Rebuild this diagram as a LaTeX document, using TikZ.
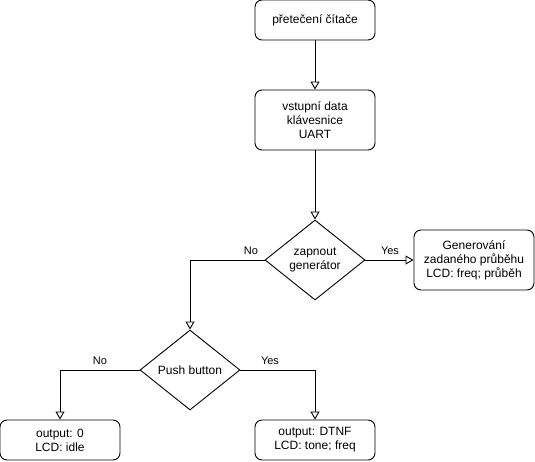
\documentclass[tikz,border=0pt]{standalone}
\usepackage{fontspec}
\setmainfont{Liberation Sans}
\usetikzlibrary{shapes.geometric,arrows.meta}
\begin{document}
\begin{tikzpicture}[
  x = 1pt,
  y = -1pt,
  box/.style = {
    shape = rectangle,
    draw = black,
    rounded corners = 7pt,
    minimum width = 120pt,
    minimum height = 40pt,
    align = center,
    font = \fontsize{12}{14}\selectfont,
  },
  choice/.style = {
    shape = diamond,
    draw = black,
    minimum width = 100pt,
    minimum height = 80pt,
    inner sep = 0pt,
    aspect = 1.25,
    align = center,
    font = \fontsize{12}{14}\selectfont,
  },
  lbl/.style = {
    font = \fontsize{11}{13}\selectfont,
    inner sep = 0pt,
  },
  every path/.style = {
    line width = 0.9pt
  },
  flow/.style = {
    -{Triangle[open, length = 8pt, width = 9pt]}
  }
]
  \useasboundingbox (0, 0) rectangle (535, 461);

  \node[box] (overflow) at (315, 20) {přetečení čítače};
  \node[box, minimum height = 60pt] (input) at (315, 120) {vstupní data\\klávesnice\\UART};
  \node[choice] (gen) at (315, 260) {zapnout\\generátor};
  \node[box, minimum height = 60pt] (wave) at (474, 260) {Generování\\zadaného průběhu\\LCD: freq; průběh};
  \node[choice] (push) at (190, 370) {Push button};
  \node[box] (idle) at (60, 440) {output: 0\\LCD: idle};
  \node[box] (dtnf) at (315, 440) {output: DTNF\\LCD: tone; freq};

  \draw[flow] (overflow) -- (input);
  \draw[flow] (input) -- (gen);
  \draw[flow] (gen.east) -- (wave.west);
  \draw[flow] (gen.west) -| (push.north);
  \draw[flow] (push.west) -| (idle.north);
  \draw[flow] (push.east) -| (dtnf.north);

  \node[lbl] (genno) at (251, 251) {No};
  \node[lbl] (genyes) at (390, 251) {Yes};
  \node[lbl] (pushno) at (100, 361) {No};
  \node[lbl] (pushyes) at (270, 361) {Yes};
\end{tikzpicture}
\end{document}
